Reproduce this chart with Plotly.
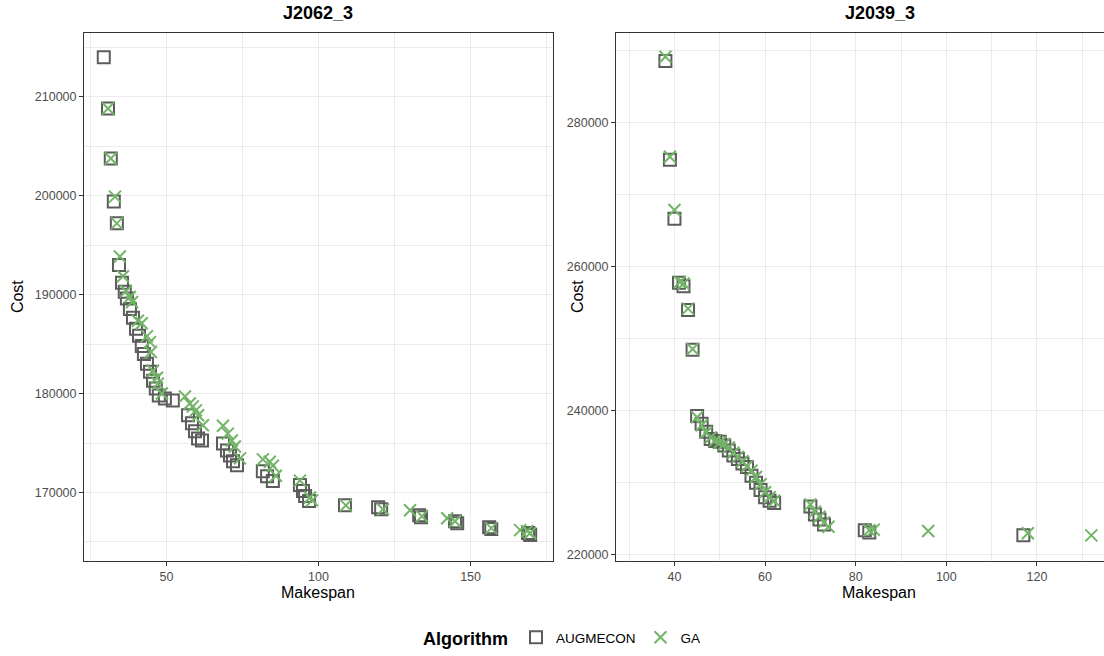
import plotly.graph_objects as go

# ---------------- data ----------------
# Panel J2062_3
j2062_aug_makespan = [29.4, 30.8, 31.7, 32.7, 33.7, 34.4, 35.4, 36.3, 37.0, 38.0, 39.0, 40.0, 41.0, 41.9,
                      42.6, 43.6, 44.6, 45.6, 46.5, 47.5, 49.5, 52.1, 57.1, 58.4, 59.4, 60.4, 61.7,
                      68.6, 69.9, 70.9, 71.9, 73.2, 81.7, 83.1, 85.0, 93.9, 94.9, 95.6, 96.9, 108.7,
                      119.6, 120.6, 133.1, 133.7, 144.9, 145.6, 156.1, 156.8, 168.9, 169.6]
j2062_aug_cost = [214000, 208800, 203750, 199400, 197200, 193000, 191200, 190300, 189600, 188550,
                  187650, 186550, 185850, 184800, 184000, 183000, 182200, 181300, 180500, 179800,
                  179500, 179300, 177800, 177000, 176200, 175450, 175250, 174950, 174250, 173750,
                  173150, 172750, 172150, 171650, 171150, 170750, 170150, 169650, 169150, 168700,
                  168500, 168300, 167700, 167500, 167100, 166900, 166500, 166300, 165900, 165700]
j2062_ga_makespan = [30.8, 31.7, 33.1, 33.7, 34.7, 35.7, 36.7, 38.0, 38.7, 40.6, 41.9, 43.6, 44.6, 44.9,
                     45.6, 46.9, 47.2, 48.5, 56.1, 57.7, 58.7, 59.7, 60.4, 62.0, 68.6, 70.2, 71.5,
                     72.5, 74.2, 81.7, 84.0, 85.0, 86.0, 93.9, 97.2, 97.9, 109.0, 121.2, 130.1, 134.0,
                     142.3, 144.9, 156.8, 166.3, 168.6, 169.6]
j2062_ga_cost = [208800, 203750, 199900, 197200, 193850, 191850, 190350, 189750, 189250, 187350,
                 187100, 185800, 185200, 184200, 182300, 181600, 181000, 180000, 179700, 179000,
                 178700, 178300, 177800, 176800, 176750, 175950, 175250, 174650, 173450, 173350,
                 173100, 172700, 171700, 171200, 169500, 169200, 168700, 168300, 168200, 167600,
                 167400, 167100, 166400, 166200, 166100, 165900]

# Panel J2039_3
j2039_aug_makespan = [38, 39, 40, 41, 42, 43, 44, 45, 46, 47, 48, 49, 50, 51, 52, 53, 54, 55, 56, 57,
                      58, 59, 60, 61, 62, 70, 71, 72, 73, 82, 83, 117]
j2039_aug_cost = [288600, 274900, 266700, 257800, 257300, 254000, 248500, 239300, 238200, 237100,
                  236100, 235800, 235700, 235200, 234500, 233800, 233300, 232700, 232200, 231000,
                  230000, 229000, 228000, 227500, 227200, 226700, 225600, 224900, 224200, 223400,
                  223100, 222700]
j2039_ga_makespan = [38, 39, 40, 41.2, 42, 43, 44, 45, 46, 47, 48, 49, 50, 51, 52, 53, 54, 55, 56, 57,
                     58, 59, 60, 61, 62, 70, 71, 72, 73, 74, 83, 84, 96, 118, 132]
j2039_ga_cost = [289200, 275300, 267900, 257900, 257700, 254200, 248600, 239100, 238000, 237000,
                 236300, 235900, 235600, 235400, 234900, 234200, 233600, 233000, 232300, 231700,
                 230800, 229800, 228700, 228000, 227500, 227000, 226000, 225300, 224500, 223900,
                 223400, 223500, 223300, 223000, 222700]

panel_titles = ["J2062_3", "J2039_3"]
series_names = ["AUGMECON", "GA"]

left_x_ticks = [50, 100, 150]
left_x_minor = [25, 75, 125, 175]
left_y_ticks = [170000, 180000, 190000, 200000, 210000]
left_y_minor = [165000, 175000, 185000, 195000, 205000, 215000]
right_x_ticks = [40, 60, 80, 100, 120]
right_x_minor = [30, 50, 70, 90, 110, 130]
right_y_ticks = [220000, 240000, 260000, 280000]
right_y_minor = [230000, 250000, 270000, 290000]

# ---------------- styling ----------------
W, H = 1104, 656
FONT = "Liberation Sans, Arial, Helvetica, sans-serif"
AUG_COLOR = "#5c5c5c"
GA_COLOR = "#72b567"
GRID = "#EBEBEB"
BORDER = "#333333"

sq = dict(symbol="square-open", size=12, color=AUG_COLOR, line=dict(width=2, color=AUG_COLOR))
xm = dict(symbol="x-thin-open", size=12, color=GA_COLOR, line=dict(width=2, color=GA_COLOR))

fig = go.Figure()
fig.add_trace(go.Scatter(x=j2062_aug_makespan, y=j2062_aug_cost, mode="markers", marker=sq,
                         name=series_names[0], xaxis="x", yaxis="y", showlegend=True))
fig.add_trace(go.Scatter(x=j2062_ga_makespan, y=j2062_ga_cost, mode="markers", marker=xm,
                         name=series_names[1], xaxis="x", yaxis="y", showlegend=True))
fig.add_trace(go.Scatter(x=j2039_aug_makespan, y=j2039_aug_cost, mode="markers", marker=sq,
                         name=series_names[0], xaxis="x2", yaxis="y2", showlegend=False))
fig.add_trace(go.Scatter(x=j2039_ga_makespan, y=j2039_ga_cost, mode="markers", marker=xm,
                         name=series_names[1], xaxis="x2", yaxis="y2", showlegend=False))


def px_x(p):
    return p / W


def px_y(p):
    return 1 - p / H


def axis(domain, rng, ticks, minor, anchor, mirror=True, fmt=None):
    d = dict(domain=domain, range=rng, tickvals=ticks, showgrid=True, gridcolor=GRID, gridwidth=1.1,
             minor=dict(tickvals=minor, showgrid=True, gridcolor=GRID, gridwidth=0.55),
             ticks="outside", ticklen=4, tickwidth=1, tickcolor=BORDER,
             tickfont=dict(family=FONT, size=12.5, color="#4D4D4D"),
             showline=True, linecolor=BORDER, linewidth=1, mirror=mirror, zeroline=False,
             anchor=anchor, fixedrange=True)
    if fmt:
        d["tickformat"] = fmt
    return d


plot_top, plot_bottom = 33, 563
ydom = [px_y(plot_bottom), px_y(plot_top)]

fig.update_layout(
    width=W, height=H,
    margin=dict(l=0, r=0, t=0, b=0),
    paper_bgcolor="white", plot_bgcolor="white",
    font=dict(family=FONT, color="black"),
    xaxis=axis([px_x(84), px_x(553)], [22.9, 177.1], left_x_ticks, left_x_minor, "y"),
    yaxis=axis(ydom, [163048, 216449], left_y_ticks, left_y_minor, "x", fmt="d"),
    xaxis2=axis([px_x(616), 1.0], [27.1, 134.8], right_x_ticks, right_x_minor, "y2"),
    yaxis2=axis(ydom, [219100, 292507], right_y_ticks, right_y_minor, "x2", mirror=False, fmt="d"),
    legend=dict(orientation="h", x=px_x(421), xanchor="left", y=px_y(641), yanchor="middle",
                title=dict(text="<b>Algorithm</b>", font=dict(family=FONT, size=18, color="black"),
                           side="left"),
                font=dict(family=FONT, size=13.5, color="black"),
                bgcolor="rgba(0,0,0,0)", itemsizing="constant"),
)

annots = [
    dict(text="<b>%s</b>" % panel_titles[0], x=px_x(318), y=px_y(13), font=dict(size=18)),
    dict(text="<b>%s</b>" % panel_titles[1], x=px_x(880), y=px_y(13), font=dict(size=18)),
    dict(text="Makespan", x=px_x(318), y=px_y(594), font=dict(size=16)),
    dict(text="Makespan", x=px_x(879), y=px_y(594), font=dict(size=16)),
    dict(text="Cost", x=px_x(17), y=px_y(298), textangle=-90, font=dict(size=16)),
    dict(text="Cost", x=px_x(577), y=px_y(298), textangle=-90, font=dict(size=16)),
]
for a in annots:
    a.update(xref="paper", yref="paper", showarrow=False, xanchor="center", yanchor="middle")
    a["font"].update(family=FONT, color="black")
fig.update_layout(annotations=annots)

fig.write_html("out.html")
